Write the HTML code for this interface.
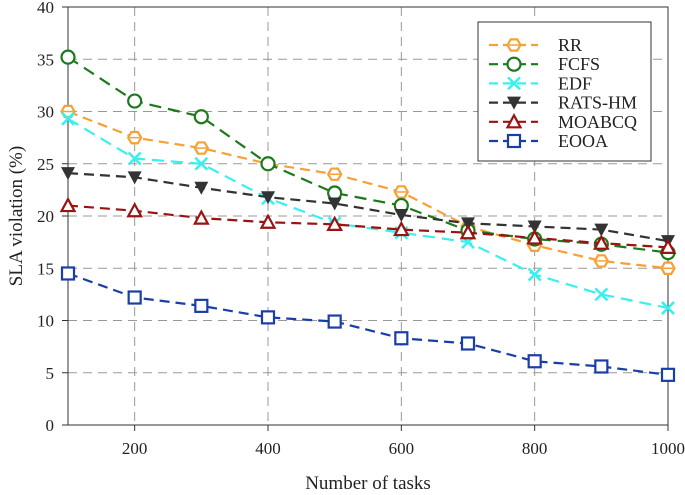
<!DOCTYPE html>
<html><head><meta charset="utf-8"><style>
body{margin:0;background:#fff}
svg{display:block;font-family:"Liberation Serif",serif}
</style></head><body>
<svg id="chart" width="685" height="495" viewBox="0 0 685 495" xmlns="http://www.w3.org/2000/svg"></svg>
<script>
const categories=[100,200,300,400,500,600,700,800,900,1000];
const seriesNames=["RR","FCFS","EDF","RATS-HM","MOABCQ","EOOA"];
const rrValues=[30,27.5,26.5,25,24,22.3,19,17.2,15.7,15];
const fcfsValues=[35.2,31,29.5,25,22.2,21,18.6,17.8,17.3,16.5];
const edfValues=[29.3,25.5,25,21.7,19.3,18.4,17.5,14.4,12.5,11.2];
const ratsValues=[24.1,23.7,22.7,21.8,21.2,20.1,19.3,19.0,18.7,17.6];
const moabcqValues=[21,20.5,19.8,19.4,19.2,18.7,18.4,17.9,17.4,17];
const eooaValues=[14.5,12.2,11.4,10.3,9.9,8.3,7.8,6.1,5.6,4.8];
const yTicks=[0,5,10,15,20,25,30,35,40];
const xTicks=[200,400,600,800,1000];

const svg=document.getElementById('chart');
const NS='http://www.w3.org/2000/svg';
const L=68,R=668,T=7,B=425;
const xs=v=>L+(v-100)/900*(R-L);
const ys=v=>B-v/40*(B-T);
function mk(tag,a,parent){const e=document.createElementNS(NS,tag);for(const k in a)e.setAttribute(k,a[k]);(parent||svg).appendChild(e);return e;}

yTicks.forEach(t=>{
  if(t>0&&t<40){const g=mk('line',{x1:L,x2:R,y1:ys(t),y2:ys(t),stroke:'#999','stroke-dasharray':'9,6','stroke-width':1});
  
  }
  const tl=mk('line',{x1:L-6,x2:L,y1:ys(t),y2:ys(t),stroke:'#333'});
  
  
  const tx=mk('text',{x:L-14,y:ys(t)+6,'text-anchor':'end','font-size':17,fill:'#222'});tx.textContent=t;
  
  
});
xTicks.forEach(t=>{
  if(t<1000){const g=mk('line',{x1:xs(t),x2:xs(t),y1:T,y2:B,stroke:'#999','stroke-dasharray':'9,6','stroke-width':1});
  
  }
  const tl=mk('line',{x1:xs(t),x2:xs(t),y1:B,y2:B+6,stroke:'#333'});
  
  
  const tx=mk('text',{x:xs(t),y:B+29,'text-anchor':'middle','font-size':17,fill:'#222'});tx.textContent=t;
  
  
});
const frame=mk('rect',{x:L,y:T,width:R-L,height:B-T,fill:'none',stroke:'#333','stroke-width':1});



const xt=mk('text',{x:368,y:489,'text-anchor':'middle','font-size':19,fill:'#222'});xt.textContent='Number of tasks';


const yt=mk('text',{x:0,y:0,transform:'translate(22,216) rotate(-90)','text-anchor':'middle','font-size':19,fill:'#222'});yt.textContent='SLA violation (%)';



const allData=[rrValues,fcfsValues,edfValues,ratsValues,moabcqValues,eooaValues];
const colors=['#f7a035','#1c7a1c','#38f0f0','#333333','#9a1212','#1a3ea8'];
const markers=['hex','circle','x','tri-down','tri-up','square'];
const dashes=['10,6','12,7','12,7','10,6','10,6','10,6'];

function marker(type,cx,cy,c,g){
  const s=6;
  if(type==='circle')return mk('circle',{cx,cy,r:6.5,fill:'#fff',stroke:c,'stroke-width':2.2},g);
  if(type==='hex'){let p=[];for(let i=0;i<6;i++){const a=Math.PI/3*i;p.push((cx+6.5*Math.cos(a))+','+(cy+6.5*Math.sin(a)));}
    const e=mk('polygon',{points:p.join(' '),fill:'#fff',stroke:c,'stroke-width':2.2},g);mk('line',{x1:cx-5,x2:cx+5,y1:cy,y2:cy,stroke:c,'stroke-width':1.5},g);return e;}
  if(type==='x'){const e=mk('path',{d:`M${cx-s},${cy-s}L${cx+s},${cy+s}M${cx-s},${cy+s}L${cx+s},${cy-s}`,stroke:c,'stroke-width':2.5},g);return e;}
  if(type==='tri-down')return mk('polygon',{points:`${cx-7},${cy-6} ${cx+7},${cy-6} ${cx},${cy+7}`,fill:c},g);
  if(type==='tri-up')return mk('polygon',{points:`${cx-6.5},${cy+5.5} ${cx+6.5},${cy+5.5} ${cx},${cy-6.5}`,fill:'#fff',stroke:c,'stroke-width':2.2},g);
  if(type==='square')return mk('rect',{x:cx-6,y:cy-6,width:12,height:12,fill:'#fff',stroke:c,'stroke-width':2.2},g);
}

allData.forEach((vals,i)=>{
  const g=mk('g',{});
  
  
  const pts=vals.map((v,j)=>xs(categories[j])+','+ys(v)).join(' ');
  const pl=mk('polyline',{points:pts,fill:'none',stroke:colors[i],'stroke-width':2.2,'stroke-dasharray':dashes[i]},g);
  
  
  vals.forEach((v,j)=>{const m=marker(markers[i],xs(categories[j]),ys(v),colors[i],g);
    
    });
});

const lg=mk('g',{});


mk('rect',{x:478,y:22,width:173,height:139,fill:'#fff',stroke:'#333','stroke-width':1},lg);
seriesNames.forEach((n,i)=>{
  const y=45+i*19.2;
  const e=mk('g',{},lg);
  
  
  mk('line',{x1:489,x2:538,y1:y,y2:y,stroke:colors[i],'stroke-width':2.2,'stroke-dasharray':'9,5'},e);
  marker(markers[i],514,y,colors[i],e);
  const t=mk('text',{x:558,y:y+6,'font-size':18,fill:'#222'},e);t.textContent=n;
});
</script>
</body></html>
